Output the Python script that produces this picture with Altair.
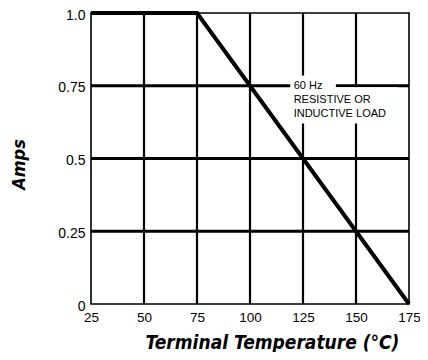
import altair as alt
import pandas as pd

# Data
temps = [25, 75, 175]
amps = [1.0, 1.0, 0.0]

x_ticks = [25, 50, 75, 100, 125, 150, 175]
y_ticks = [0, 0.25, 0.5, 0.75, 1.0]
y_tick_labels = ["0", "0.25", "0.5", "0.75", "1.0"]
x_grid = [50, 75, 100, 125, 150]
y_grid = [0.25, 0.5, 0.75]

note_lines = ["60 Hz", "RESISTIVE OR", "INDUCTIVE LOAD"]

curve = pd.DataFrame({"t": temps, "a": amps})
vgrid = pd.DataFrame({"t": x_grid})
hgrid = pd.DataFrame({"a": y_grid})

# white boxes behind annotation (interrupting grid lines)
boxes = pd.DataFrame({
    "t": [119.0, 119.0], "t2": [140.5, 169.8],
    "a": [0.74, 0.62], "a2": [0.785, 0.745],
})
note = pd.DataFrame({"t": [120.6], "a": [0.771], "txt": ["\n".join(note_lines)]})

xs = alt.Scale(domain=[25, 175], nice=False, zero=False)
ys = alt.Scale(domain=[0, 1], nice=False)

font = "Liberation Sans"
title_font = "'DejaVu Sans Condensed', 'Liberation Sans', sans-serif"

ylab_expr = " : ".join(
    f"datum.value == {v} ? '{l}'" for v, l in zip(y_ticks, y_tick_labels)
) + " : ''"

x_axis = alt.Axis(
    values=x_ticks, grid=False, ticks=False, domain=False,
    labelFont=font, labelFontSize=13.5, labelColor="black", labelPadding=6,
    labelFlush=False,
    title="Terminal Temperature (°C)", titleFont=title_font, titleFontSize=19,
    titleFontWeight="bold", titleFontStyle="italic", titleColor="black",
    titleX=181, titleY=44, titleBaseline="alphabetic", titleAnchor="start",
    titleAlign="center",
)
y_axis = alt.Axis(
    values=y_ticks, grid=False, ticks=False, domain=False,
    labelExpr=ylab_expr,
    labelFont=font, labelFontSize=14, labelColor="black", labelPadding=6,
    labelOffset=2, labelFlush=False,
    title="Amps", titleFont=title_font, titleFontSize=18,
    titleFontWeight="bold", titleFontStyle="italic", titleColor="black",
    titleAngle=270, titleX=-67, titleY=151, titleAlign="center",
    titleBaseline="alphabetic", titleAnchor="start",
)


def X(f):
    return alt.X(f, scale=xs, axis=x_axis)


def Y(f):
    return alt.Y(f, scale=ys, axis=y_axis)


vlines = alt.Chart(vgrid).mark_rule(color="black", strokeWidth=2.2).encode(
    x=X("t:Q")
)
hlines = alt.Chart(hgrid).mark_rule(color="black", strokeWidth=3).encode(
    y=Y("a:Q")
)
box = alt.Chart(boxes).mark_rect(color="white").encode(
    x=X("t:Q"), x2="t2:Q",
    y=Y("a:Q"), y2="a2:Q",
)
text = alt.Chart(note).mark_text(
    align="left", baseline="top", font=font, fontSize=11, lineHeight=14,
    color="black", lineBreak="\n",
).encode(
    x=X("t:Q"),
    y=Y("a:Q"),
    text="txt:N",
)
line = alt.Chart(curve).mark_line(color="black", strokeWidth=4, clip=False).encode(
    x=X("t:Q"), y=Y("a:Q")
)

chart = alt.layer(vlines, hlines, box, text, line).properties(
    width=318, height=291,
    background="white",
    autosize=alt.AutoSizeParams(type="none"),
    padding={"left": 83, "top": 5, "right": 11, "bottom": 48},
).configure_view(
    stroke="black", strokeWidth=1.6
)

chart.save("out.html", embed_options={"renderer": "svg", "actions": False})
